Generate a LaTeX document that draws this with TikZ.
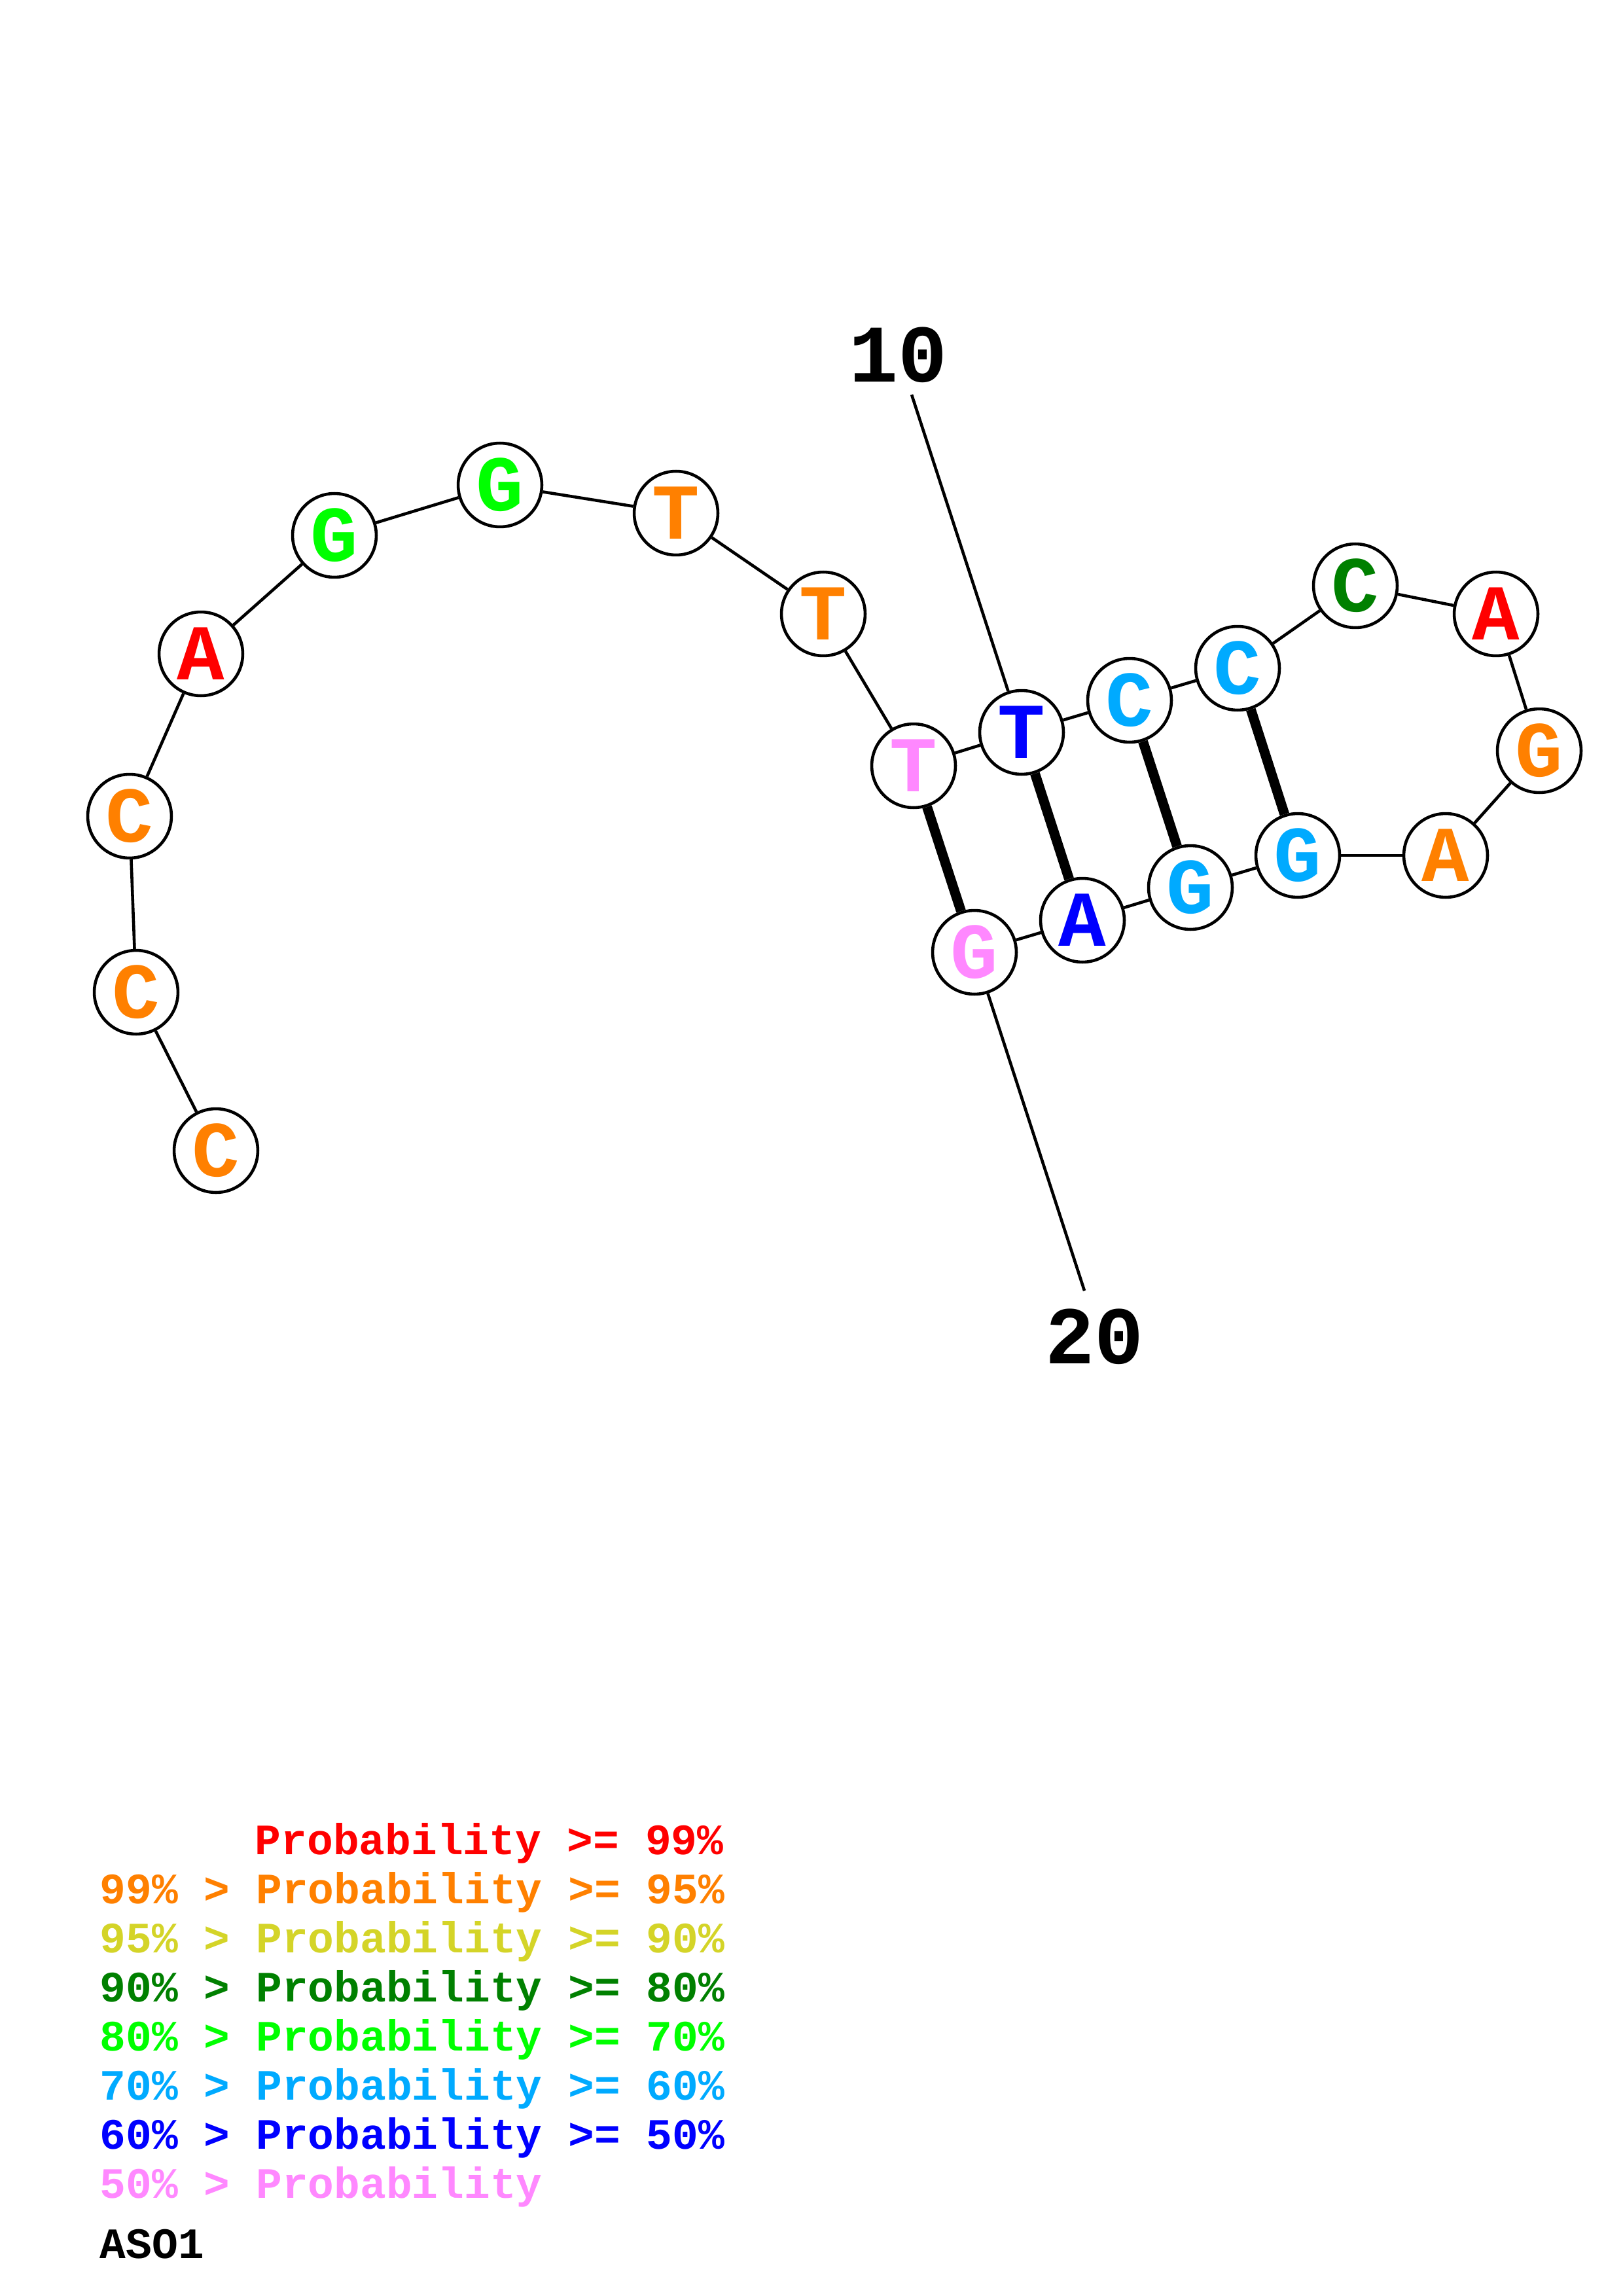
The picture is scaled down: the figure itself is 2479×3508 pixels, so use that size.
\documentclass[tikz,border=0pt]{standalone}
\usepackage{fontspec}
\setmainfont{Liberation Mono}
\definecolor{cred}{RGB}{255,0,0}
\definecolor{corange}{RGB}{255,128,0}
\definecolor{cyellow}{RGB}{212,212,40}
\definecolor{cdgreen}{RGB}{0,128,0}
\definecolor{cgreen}{RGB}{0,255,0}
\definecolor{clblue}{RGB}{0,170,255}
\definecolor{cblue}{RGB}{0,0,255}
\definecolor{cpink}{RGB}{255,136,255}
\begin{document}
\begin{tikzpicture}[x=0.24pt,y=-0.24pt,
  nt/.style={circle, draw=black, line width=1.1pt, fill=white, minimum size=30.7pt, inner sep=0pt,
    font=\fontsize{29}{29}\selectfont\bfseries},
  bb/.style={line width=1.1pt},
  pr/.style={line width=3.6pt},
  numlab/.style={inner sep=0pt, font=\fontsize{30}{30}\selectfont\bfseries},
  lg/.style={anchor=base west, inner sep=0pt, font=\fontsize{15.9}{16}\selectfont\bfseries},
]
\useasboundingbox (0,0) rectangle (2479,3508);
\fill[white] (0,0) rectangle (2479,3508);

% nucleotides
\node[nt,text=corange] (n1) at (330,1758) {C};
\node[nt,text=corange] (n2) at (208,1516) {C};
\node[nt,text=corange] (n3) at (198,1247) {C};
\node[nt,text=cred] (n4) at (307,999) {A};
\node[nt,text=cgreen] (n5) at (511,818) {G};
\node[nt,text=cgreen] (n6) at (764,741) {G};
\node[nt,text=corange] (n7) at (1033,784) {T};
\node[nt,text=corange] (n8) at (1258,938) {T};
\node[nt,text=cpink] (n9) at (1396,1170) {T};
\node[nt,text=cblue] (n10) at (1561,1119) {T};
\node[nt,text=clblue] (n11) at (1726,1070) {C};
\node[nt,text=clblue] (n12) at (1891,1021) {C};
\node[nt,text=cdgreen] (n13) at (2071,895) {C};
\node[nt,text=cred] (n14) at (2286,938) {A};
\node[nt,text=corange] (n15) at (2352,1147) {G};
\node[nt,text=corange] (n16) at (2209,1307) {A};
\node[nt,text=clblue] (n17) at (1983,1307) {G};
\node[nt,text=clblue] (n18) at (1819,1356) {G};
\node[nt,text=cblue] (n19) at (1654,1406) {A};
\node[nt,text=cpink] (n20) at (1489,1455) {G};

% backbone
\foreach \a/\b in {1/2,2/3,3/4,4/5,5/6,6/7,7/8,8/9,9/10,10/11,11/12,12/13,13/14,14/15,15/16,16/17,17/18,18/19,19/20}
  \draw[bb] (n\a) -- (n\b);

% pairs
\draw[pr] (n9) -- (n20);
\draw[pr] (n10) -- (n19);
\draw[pr] (n11) -- (n18);
\draw[pr] (n12) -- (n17);

% position labels
\node[numlab] (l10) at (1372,542) {10};
\coordinate (l10e) at (1393,603);
\draw[bb] (l10e) -- (n10);
\node[numlab] (l20) at (1672,2042) {20};
\coordinate (l20e) at (1657,1972);
\draw[bb] (l20e) -- (n20);

% legend
\node[lg,text=cred] (g1) at (389,2833) {Probability >= 99\%};
\node[lg,text=corange] (g2) at (152,2908) {99\% > Probability >= 95\%};
\node[lg,text=cyellow] (g3) at (152,2983) {95\% > Probability >= 90\%};
\node[lg,text=cdgreen] (g4) at (152,3058) {90\% > Probability >= 80\%};
\node[lg,text=cgreen] (g5) at (152,3133) {80\% > Probability >= 70\%};
\node[lg,text=clblue] (g6) at (152,3208) {70\% > Probability >= 60\%};
\node[lg,text=cblue] (g7) at (152,3283) {60\% > Probability >= 50\%};
\node[lg,text=cpink] (g8) at (152,3358) {50\% > Probability};
\node[lg,text=black] (g9) at (152,3450) {ASO1};
\end{tikzpicture}
\end{document}
